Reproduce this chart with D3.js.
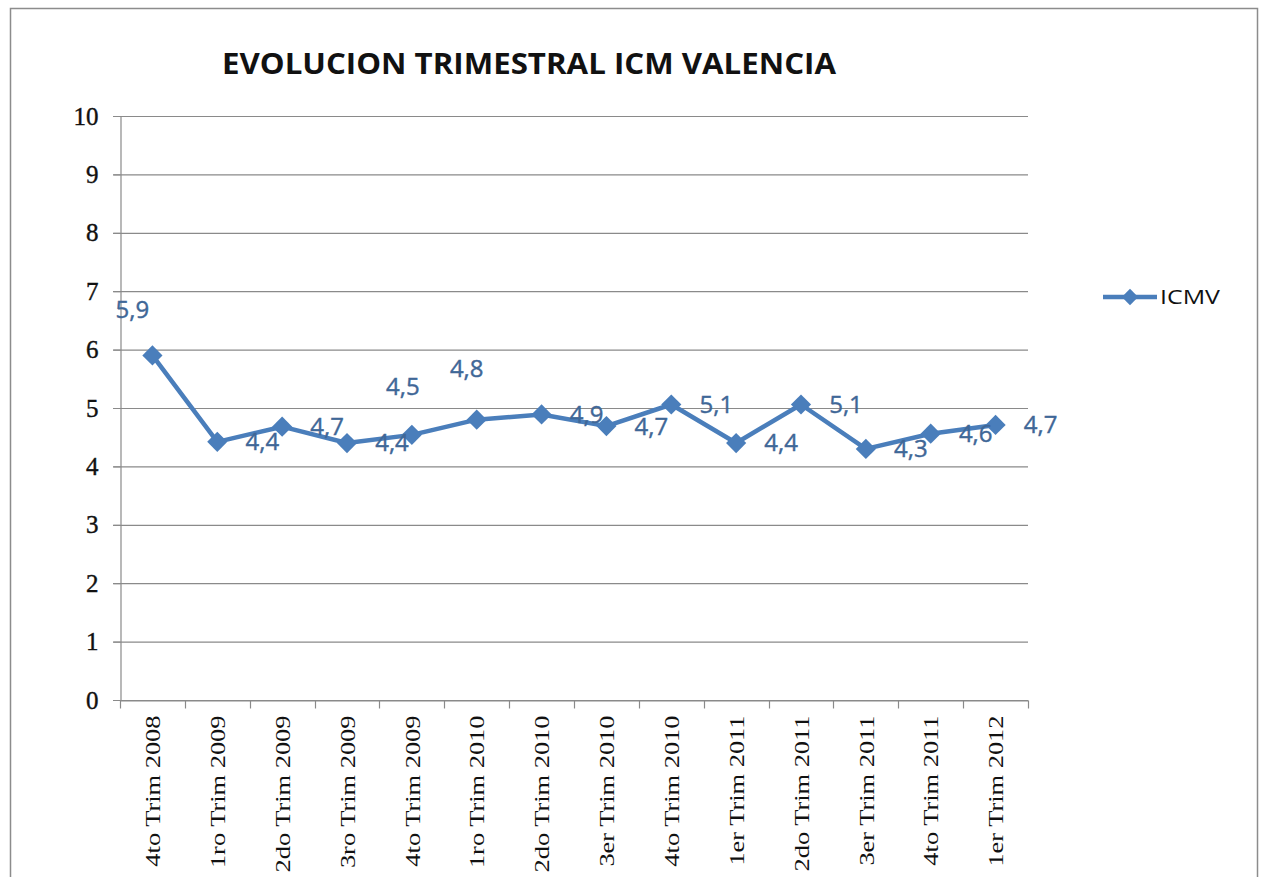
<!DOCTYPE html>
<html lang="es">
<head>
<meta charset="utf-8">
<script src="https://cdn.jsdelivr.net/npm/d3@7"></script>
<style>
  * { margin: 0; padding: 0; }
  body { background: #fff; width: 1262px; height: 877px; overflow: hidden; }
  svg { display: block; }
</style>
</head>
<body>
<script>
// ---- data ----
const quarters = ['4to Trim 2008', '1ro Trim 2009', '2do Trim 2009', '3ro Trim 2009', '4to Trim 2009',
  '1ro Trim 2010', '2do Trim 2010', '3er Trim 2010', '4to Trim 2010', '1er Trim 2011',
  '2do Trim 2011', '3er Trim 2011', '4to Trim 2011', '1er Trim 2012'];
const icmv = [5.9, 4.42, 4.68, 4.4, 4.54, 4.8, 4.89, 4.69, 5.06, 4.4, 5.06, 4.3, 4.56, 4.71];
const yTicks = [0, 1, 2, 3, 4, 5, 6, 7, 8, 9, 10];
const seriesName = 'ICMV';
const chartTitle = 'EVOLUCION TRIMESTRAL ICM VALENCIA';

const W = 1262, H = 877;
const margin = { left: 120, right: 234, top: 116, bottom: 177 };
const blue = '#4a7ebb', labelBlue = '#3f6797';

const svg = d3.select('body').append('svg').attr('width', W).attr('height', H);

// chart frame
svg.append('rect').attr('x', 10.5).attr('y', 8.5).attr('width', 1247).attr('height', 880)
  .attr('fill', 'none').attr('stroke', '#8c8c8c').attr('stroke-width', 1.5);

const x = d3.scaleBand().domain(quarters).range([margin.left, W - margin.right]);
const y = d3.scaleLinear().domain([0, 10]).range([H - margin.bottom, margin.top]);

// grid
svg.append('g').selectAll('line').data(yTicks).enter().append('line')
  .attr('x1', margin.left - 7).attr('x2', W - margin.right)
  .attr('y1', d => y(d) + 0.5).attr('y2', d => y(d) + 0.5)
  .attr('stroke', '#8a8a8a').attr('stroke-width', 1.2);

// y axis
const yAxis = svg.append('g').attr('transform', `translate(${margin.left + 0.5},0)`)
  .call(d3.axisLeft(y).tickValues(yTicks).tickSize(7).tickPadding(15));
yAxis.select('.domain').attr('stroke', '#8a8a8a').attr('stroke-width', 1.2);
yAxis.selectAll('.tick line').attr('stroke', '#8a8a8a');
yAxis.selectAll('text').attr('font-family', '"Liberation Serif", serif').attr('font-size', 25)
  .attr('font-weight', 500).attr('stroke', '#111').attr('stroke-width', 0.4).attr('fill', '#111');

// x axis
const xAxis = svg.append('g').attr('transform', `translate(0,${y(0) + 0.5})`)
  .call(d3.axisBottom(x).tickSize(0).tickSizeOuter(0));
xAxis.select('.domain').attr('stroke', '#8a8a8a').attr('stroke-width', 1.2);
xAxis.selectAll('.tick text')
  .attr('font-family', '"Liberation Serif", serif').attr('font-size', 22).attr('fill', '#111')
  .attr('text-anchor', 'end').attr('dy', '0.35em')
  .attr('transform', 'translate(0,15) rotate(-90)').attr('x', 0).attr('y', 0)
  .each(function () {
    // the original labels are drawn a little stretched along their length
    const len = this.getComputedTextLength();
    d3.select(this).attr('textLength', len * 1.2).attr('lengthAdjust', 'spacingAndGlyphs');
  });
xAxis.selectAll('.bound').data(d3.range(quarters.length + 1)).enter().append('line')
  .attr('x1', i => Math.round(margin.left + i * x.step()) + 0.5)
  .attr('x2', i => Math.round(margin.left + i * x.step()) + 0.5)
  .attr('y1', 0).attr('y2', 8).attr('stroke', '#8a8a8a').attr('stroke-width', 1.2);

// line
const cx = (d, i) => x(quarters[i]) + x.bandwidth() / 2;
svg.append('path').datum(icmv)
  .attr('d', d3.line().x(cx).y(d => y(d)))
  .attr('fill', 'none').attr('stroke', blue).attr('stroke-width', 4.5)
  .attr('stroke-linejoin', 'round');

const diamond = d3.symbol().type(d3.symbolDiamond2).size(260);
svg.append('g').selectAll('path').data(icmv).enter().append('path')
  .attr('d', diamond).attr('fill', blue)
  .attr('transform', (d, i) => `translate(${cx(d, i)},${y(d)})`);

// value labels (a few sit above-left of their point, the rest to the right)
const fmt = v => v.toFixed(1).replace('.', ',');
const aboveLeft = { 0: [-20, -46], 4: [-9, -48], 5: [-10, -51] };
svg.append('g').selectAll('text').data(icmv).enter().append('text')
  .attr('x', (d, i) => cx(d, i) + (aboveLeft[i] ? aboveLeft[i][0] : 45))
  .attr('y', (d, i) => y(d) + (aboveLeft[i] ? aboveLeft[i][1] : 0))
  .attr('dy', '0.35em').attr('text-anchor', 'middle')
  .attr('font-family', '"Open Sans", sans-serif').attr('font-size', 24)
  .attr('stroke', labelBlue).attr('stroke-width', 0.4)
  .attr('fill', labelBlue).text(fmt);

// title
svg.append('text').attr('x', 529).attr('y', 74).attr('text-anchor', 'middle')
  .attr('font-family', '"Open Sans", sans-serif').attr('font-weight', 'bold').attr('font-size', 29)
  .attr('textLength', 614).attr('lengthAdjust', 'spacingAndGlyphs')
  .attr('fill', '#111').text(chartTitle);

// legend
const lg = svg.append('g').attr('transform', 'translate(1103,297)');
lg.append('line').attr('x1', 0).attr('x2', 54).attr('y1', 0).attr('y2', 0)
  .attr('stroke', blue).attr('stroke-width', 4.5);
lg.append('path').attr('d', d3.symbol().type(d3.symbolDiamond2).size(170)).attr('fill', blue)
  .attr('transform', 'translate(27,0)');
lg.append('text').attr('x', 57).attr('y', 0).attr('dy', '0.35em')
  .attr('font-family', '"Open Sans", sans-serif').attr('font-size', 20).attr('fill', '#111')
  .attr('textLength', 60).attr('lengthAdjust', 'spacingAndGlyphs')
  .text(seriesName);
</script>
</body>
</html>
